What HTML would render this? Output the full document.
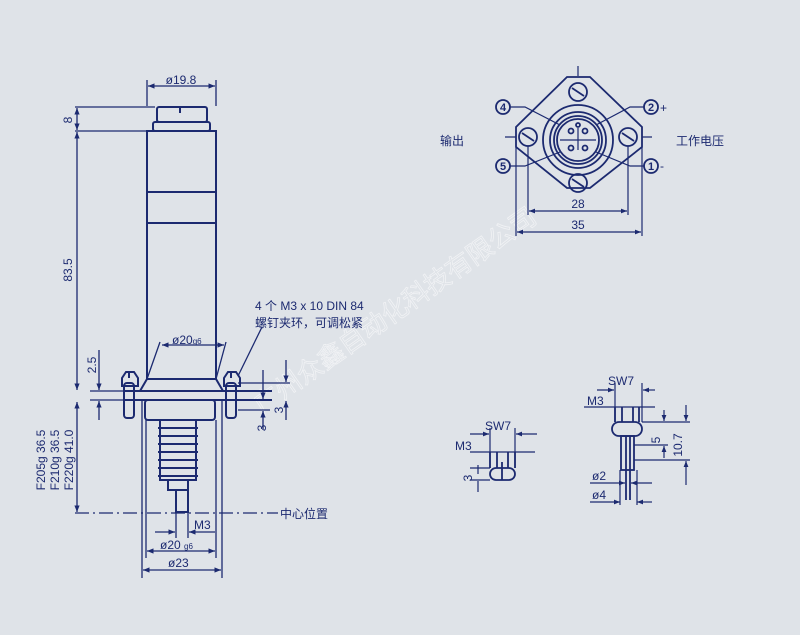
<!DOCTYPE html>
<html><head><meta charset="utf-8"><style>
html,body{margin:0;padding:0;background:#dfe3e8;}
svg{display:block}
text{font-family:"Liberation Sans","Noto Sans CJK SC",sans-serif;fill:#1c2a70}
</style></head><body>
<svg width="800" height="635" viewBox="0 0 800 635" xmlns="http://www.w3.org/2000/svg">
<defs>
<marker id="a" viewBox="0 0 10 10" refX="10" refY="5" markerWidth="7" markerHeight="5" orient="auto-start-reverse"><path d="M0,1 L10,5 L0,9z" fill="#1c2a70"/></marker>
</defs>
<rect width="800" height="635" fill="#dfe3e8"/>
<text x="400" y="318" font-size="26" stroke="#ffffff" stroke-opacity="0.55" stroke-width="0.8" transform="rotate(-35 400 318)" text-anchor="middle" style="fill:none">广州众鑫自动化科技有限公司</text>
<g stroke="#1c2a70" fill="none" stroke-width="2">
<rect x="157" y="107" width="50" height="15" rx="2"/>
<rect x="153" y="122" width="57" height="9" rx="2"/>
<path d="M180 107 v6"/>
<rect x="147" y="131" width="69" height="248"/>
<path d="M147 192 H216 M147 223 H216"/>
<path d="M125 391 H272 M125 400 H272" />
<path d="M147 379 L140 391 M216 379 L223 391"/>
<path d="M122 378 L126 372 H134 L138 378 V386 H122 Z"/>
<rect x="124" y="383" width="10" height="35" rx="3"/>
<path d="M224 378 L228 372 H236 L240 378 V386 H224 Z"/>
<rect x="226" y="383" width="10" height="35" rx="3"/>
<path d="M129 372 v6 M231 372 v6"/>
<rect x="145" y="400" width="70" height="20" rx="3"/>
<path d="M160 420 V480 H196 V420"/>
<path d="M158 428 H198 M158 436 H198 M158 444 H198 M158 452 H198 M158 460 H198 M158 468 H198 M158 476 H198"/>
<rect x="168" y="480" width="20" height="10"/>
<rect x="176" y="490" width="12" height="22"/>
</g>
<g stroke="#1c2a70" fill="none" stroke-width="1.3">
<path d="M147 80 V106 M216 80 V106"/>
<path d="M148 86 H215" marker-start="url(#a)" marker-end="url(#a)"/>
<path d="M75 107 H155 M75 131 H147"/>
<path d="M77 108 V130" marker-start="url(#a)" marker-end="url(#a)"/>
<path d="M77 132 V390" marker-start="url(#a)" marker-end="url(#a)"/>
<path d="M77 402 V512" marker-start="url(#a)" marker-end="url(#a)"/>
<path d="M99 350 V390" marker-end="url(#a)"/>
<path d="M99 420 V401" marker-end="url(#a)"/>
<path d="M90 391 H125 M90 400 H125"/>
<path d="M162 345 H224" marker-start="url(#a)" marker-end="url(#a)"/>
<path d="M147 379 L160 342 M216 379 L226 342"/>
<path d="M238 376 L262 327"/>
<path d="M238 383 H290 M238 410 H270"/>
<path d="M286 360 V382" marker-end="url(#a)"/>
<path d="M286 420 V401" marker-end="url(#a)"/>
<path d="M263 430 V411" marker-end="url(#a)"/>
<path d="M263 370 V399" marker-end="url(#a)"/>
<path d="M142 400 V578 M222 400 V578 M146 420 V558 M216 420 V558"/>
<path d="M176 512 V538 M188 512 V538"/>
<path d="M155 532 H175" marker-end="url(#a)"/>
<path d="M215 532 H189" marker-end="url(#a)"/>
<path d="M147 551 H215" marker-start="url(#a)" marker-end="url(#a)"/>
<path d="M143 570 H221" marker-start="url(#a)" marker-end="url(#a)"/>
<path d="M75 513 H278" stroke-dasharray="14 4 2 4"/>
</g>
<g font-size="12">
<text x="181" y="84" text-anchor="middle">ø19.8</text>
<text transform="translate(72 120) rotate(-90)" text-anchor="middle">8</text>
<text transform="translate(72 270) rotate(-90)" text-anchor="middle">83.5</text>
<text transform="translate(96 365) rotate(-90)" text-anchor="middle">2.5</text>
<text transform="translate(45 460) rotate(-90)" text-anchor="middle">F205g  36.5</text>
<text transform="translate(59 460) rotate(-90)" text-anchor="middle">F210g  36.5</text>
<text transform="translate(73 460) rotate(-90)" text-anchor="middle">F220g  41.0</text>
<text x="172" y="344">ø20<tspan font-size="8">g6</tspan></text>
<text transform="translate(283 410) rotate(-90)" text-anchor="middle">3</text>
<text transform="translate(266 428) rotate(-90)" text-anchor="middle">3</text>
<text x="194" y="529">M3</text>
<text x="160" y="549">ø20 <tspan font-size="8">g6</tspan></text>
<text x="168" y="567">ø23</text>
<text x="280" y="518">中心位置</text>
<text x="255" y="310">4 个 M3 x 10 DIN 84</text>
<text x="255" y="327">螺钉夹环，可调松紧</text>
<text x="440" y="145">输出</text>
<text x="676" y="145">工作电压</text>
<text x="578" y="208" text-anchor="middle">28</text>
<text x="578" y="229" text-anchor="middle">35</text>
<text x="660" y="112">+</text>
<text x="660" y="170">-</text>
</g>
<g stroke="#1c2a70" fill="none" stroke-width="1.8">
<path d="M567 77 H590 L642 127 V147 L590 188 H567 L516 147 V127 Z"/>
<circle cx="578" cy="140" r="35"/><circle cx="578" cy="140" r="28"/><circle cx="578" cy="140" r="24"/><circle cx="578" cy="140" r="21"/>
<circle cx="578" cy="92" r="9"/><circle cx="578" cy="183" r="9"/><circle cx="528" cy="137" r="9"/><circle cx="628" cy="137" r="9"/>
<path d="M572 88 L584 96 M572 179 L584 187 M522 133 L534 141 M622 133 L634 141"/>
<circle cx="571" cy="131" r="2.5"/><circle cx="585" cy="131" r="2.5"/><circle cx="571" cy="148" r="2.5"/><circle cx="585" cy="148" r="2.5"/><circle cx="578" cy="125" r="2"/>
<circle cx="503" cy="107" r="7"/><circle cx="651" cy="107" r="7"/><circle cx="503" cy="166" r="7"/><circle cx="651" cy="166" r="7"/>
</g>
<g stroke="#1c2a70" fill="none" stroke-width="1.2">
<path d="M510 107 H525 L560 125 M644 107 H630 L596 125 M510 166 H525 L560 152 M644 166 H630 L596 152"/>
<path d="M578 66 V76 M505 137 H516 M642 137 H652 M578 128 V150 M560 140 H596"/>
<path d="M528 146 V215 M628 146 V215 M516 147 V236 M642 147 V236"/>
<path d="M529 211 H627" marker-start="url(#a)" marker-end="url(#a)"/>
<path d="M517 232 H641" marker-start="url(#a)" marker-end="url(#a)"/>
</g>
<g font-size="11" font-weight="bold" text-anchor="middle">
<text x="503" y="111">4</text><text x="651" y="111">2</text><text x="503" y="170">5</text><text x="651" y="170">1</text>
</g>
<g stroke="#1c2a70" fill="none" stroke-width="1.8">
<rect x="490" y="468" width="25" height="12" rx="6"/>
<path d="M490 452 V468 M515 452 V468 M497 452 V468 M508 452 V468 M502 462 V480"/>
<rect x="612" y="422" width="30" height="14" rx="7"/>
<path d="M615 407 V422 M639 407 V422 M622 407 V422 M633 407 V422"/>
<rect x="621" y="436" width="13" height="34"/>
<path d="M626 436 V500 M630 436 V500"/>
</g>
<g stroke="#1c2a70" fill="none" stroke-width="1.2">
<path d="M490 428 V468 M515 428 V468"/>
<path d="M470 434 H489" marker-end="url(#a)"/><path d="M537 434 H516" marker-end="url(#a)"/>
<path d="M470 452 H535"/>
<path d="M478 465 V474 M478 492 V481" /><path d="M470 468 H490 M470 480 H490"/>
<path d="M615 383 V422 M642 383 V422"/>
<path d="M597 390 H614" marker-end="url(#a)"/><path d="M655 390 H643" marker-end="url(#a)"/>
<path d="M584 407 H655"/>
<path d="M642 422 H690 M634 445 H668 M634 460 H690"/>
<path d="M664 410 V421" marker-end="url(#a)"/><path d="M664 458 V446" marker-end="url(#a)"/>
<path d="M686 405 V421" marker-end="url(#a)"/><path d="M686 485 V461" marker-end="url(#a)"/>
<path d="M590 483 H625" marker-end="url(#a)"/><path d="M652 483 H631" marker-end="url(#a)"/>
<path d="M590 502 H620" marker-end="url(#a)"/><path d="M652 502 H637" marker-end="url(#a)"/>
<path d="M620 470 V505 M637 470 V505"/>
</g>
<g font-size="12">
<text x="485" y="430">SW7</text>
<text x="455" y="450">M3</text>
<text transform="translate(472 478) rotate(-90)" text-anchor="middle">3</text>
<text x="608" y="385">SW7</text>
<text x="587" y="405">M3</text>
<text transform="translate(660 440) rotate(-90)" text-anchor="middle">5</text>
<text transform="translate(682 445) rotate(-90)" text-anchor="middle">10.7</text>
<text x="592" y="480">ø2</text>
<text x="592" y="499">ø4</text>
</g>
</svg>
</body></html>
